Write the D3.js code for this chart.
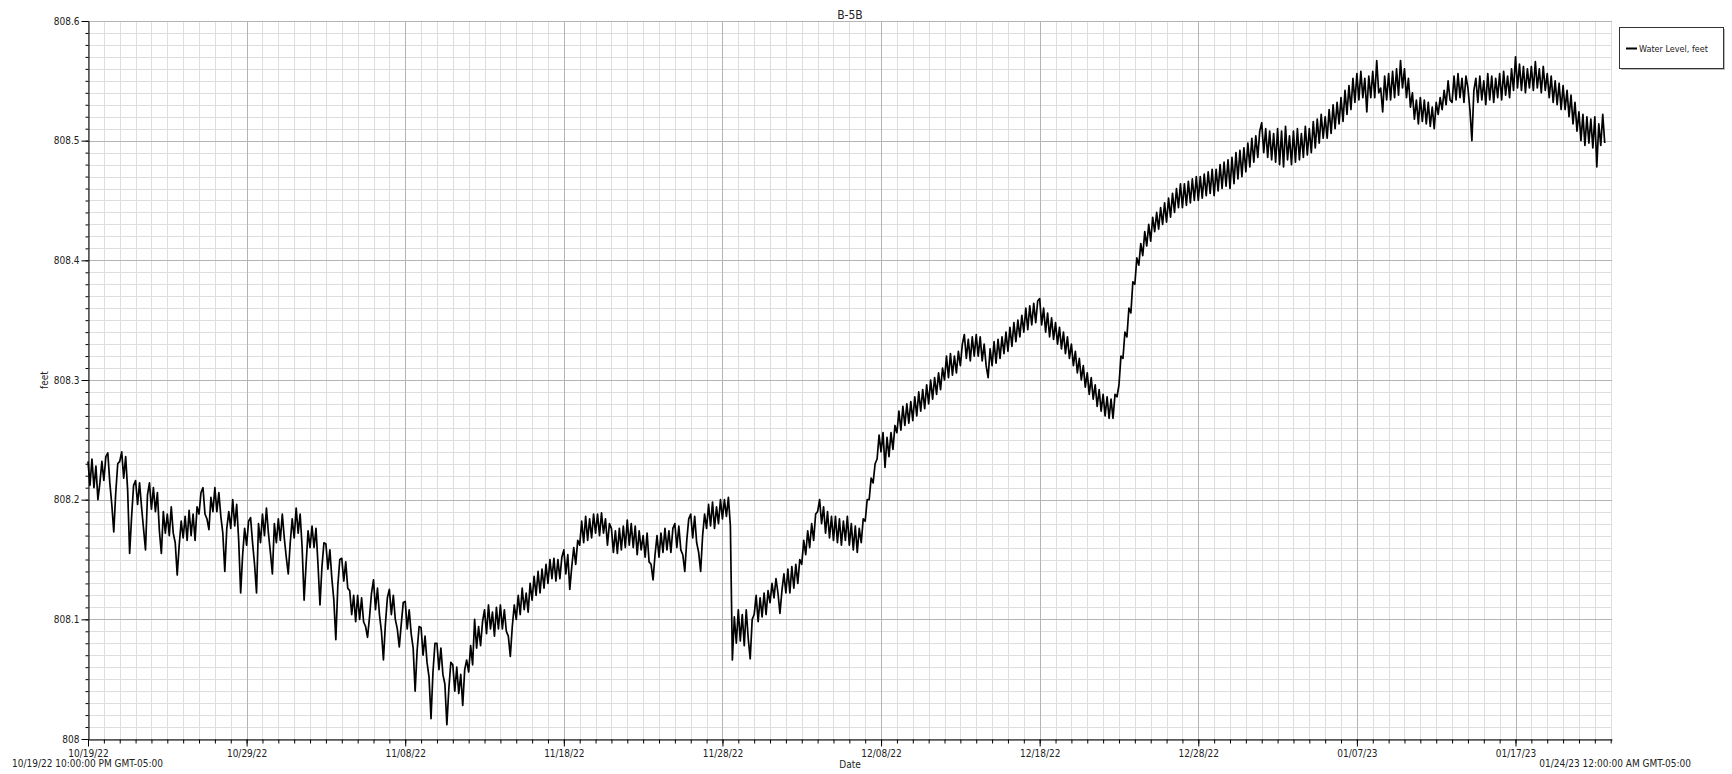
<!DOCTYPE html>
<html>
<head>
<meta charset="utf-8">
<title>B-5B</title>
<script src="https://cdn.jsdelivr.net/npm/d3@7"></script>
<style>
  html, body { margin: 0; padding: 0; background: #fff; }
  svg { display: block; }
  text { font-family: "DejaVu Sans Condensed", "DejaVu Sans", sans-serif; fill: #222; }
</style>
</head>
<body>
<svg id="chart" width="1732" height="774"></svg>
<script>
// Well B-5B water level record, sampled every 3 hours (GMT-05:00 wall clock)
const chartTitle = "B-5B";
const seriesName = "Water Level, feet";
const startTime = Date.UTC(2022, 9, 19, 22);   // 10/19/22 10:00 PM
const endTime = Date.UTC(2023, 0, 24, 0);      // 01/24/23 12:00 AM
const stepHours = 3;

// water level, feet (one row per day, eight readings each)
const level = [
  808.232, 808.212, 808.234, 808.210, 808.228, 808.200, 808.214, 808.232,
  808.216, 808.236, 808.239, 808.214, 808.196, 808.173, 808.206, 808.230,
  808.232, 808.240, 808.218, 808.236, 808.208, 808.155, 808.186, 808.212,
  808.216, 808.196, 808.214, 808.194, 808.176, 808.158, 808.204, 808.214,
  808.192, 808.210, 808.190, 808.206, 808.174, 808.155, 808.190, 808.172,
  808.188, 808.170, 808.194, 808.172, 808.164, 808.137, 808.162, 808.182,
  808.168, 808.186, 808.166, 808.191, 808.170, 808.188, 808.166, 808.194,
  808.188, 808.206, 808.210, 808.188, 808.184, 808.175, 808.202, 808.190,
  808.210, 808.190, 808.206, 808.186, 808.172, 808.140, 808.176, 808.190,
  808.176, 808.200, 808.178, 808.196, 808.166, 808.122, 808.154, 808.176,
  808.162, 808.182, 808.185, 808.164, 808.146, 808.122, 808.180, 808.164,
  808.188, 808.170, 808.193, 808.172, 808.156, 808.138, 808.180, 808.164,
  808.184, 808.166, 808.188, 808.168, 808.152, 808.138, 808.164, 808.184,
  808.168, 808.193, 808.172, 808.188, 808.160, 808.116, 808.146, 808.174,
  808.160, 808.178, 808.160, 808.176, 808.146, 808.112, 808.144, 808.164,
  808.163, 808.142, 808.158, 808.134, 808.116, 808.083, 808.128, 808.150,
  808.151, 808.132, 808.148, 808.126, 808.124, 808.104, 808.120, 808.098,
  808.120, 808.100, 808.118, 808.098, 808.094, 808.085, 808.102, 808.122,
  808.133, 808.108, 808.126, 808.104, 808.090, 808.066, 808.096, 808.118,
  808.125, 808.104, 808.120, 808.100, 808.092, 808.077, 808.096, 808.114,
  808.115, 808.092, 808.108, 808.088, 808.076, 808.040, 808.074, 808.094,
  808.093, 808.070, 808.086, 808.064, 808.052, 808.017, 808.056, 808.080,
  808.080, 808.058, 808.076, 808.054, 808.046, 808.012, 808.042, 808.064,
  808.062, 808.040, 808.060, 808.038, 808.054, 808.028, 808.058, 808.066,
  808.056, 808.078, 808.062, 808.100, 808.076, 808.094, 808.078, 808.098,
  808.108, 808.088, 808.112, 808.092, 808.106, 808.086, 808.110, 808.092,
  808.112, 808.092, 808.108, 808.090, 808.086, 808.069, 808.094, 808.112,
  808.100, 808.120, 808.104, 808.126, 808.108, 808.122, 808.106, 808.130,
  808.116, 808.136, 808.120, 808.140, 808.122, 808.142, 808.126, 808.146,
  808.130, 808.150, 808.134, 808.151, 808.132, 808.150, 808.134, 808.152,
  808.158, 808.138, 808.154, 808.125, 808.144, 808.160, 808.146, 808.166,
  808.162, 808.182, 808.164, 808.186, 808.166, 808.184, 808.168, 808.188,
  808.172, 808.188, 808.170, 808.189, 808.172, 808.184, 808.162, 808.180,
  808.176, 808.156, 808.174, 808.155, 808.176, 808.158, 808.178, 808.160,
  808.183, 808.162, 808.180, 808.160, 808.178, 808.154, 808.174, 808.158,
  808.170, 808.152, 808.172, 808.148, 808.146, 808.133, 808.154, 808.170,
  808.152, 808.172, 808.156, 808.176, 808.158, 808.174, 808.156, 808.176,
  808.180, 808.160, 808.178, 808.158, 808.154, 808.140, 808.166, 808.184,
  808.188, 808.168, 808.186, 808.164, 808.156, 808.140, 808.170, 808.188,
  808.176, 808.196, 808.178, 808.198, 808.176, 808.194, 808.180, 808.200,
  808.184, 808.200, 808.186, 808.202, 808.178, 808.066, 808.102, 808.080,
  808.108, 808.082, 808.104, 808.078, 808.108, 808.084, 808.067, 808.100,
  808.104, 808.120, 808.098, 808.118, 808.102, 808.122, 808.104, 808.124,
  808.114, 808.130, 808.118, 808.134, 808.122, 808.105, 808.124, 808.138,
  808.122, 808.142, 808.122, 808.144, 808.126, 808.146, 808.130, 808.150,
  808.146, 808.166, 808.154, 808.174, 808.160, 808.180, 808.166, 808.188,
  808.190, 808.200, 808.180, 808.194, 808.172, 808.190, 808.168, 808.186,
  808.166, 808.186, 808.164, 808.184, 808.162, 808.182, 808.166, 808.186,
  808.162, 808.180, 808.158, 808.178, 808.156, 808.176, 808.164, 808.184,
  808.182, 808.200, 808.200, 808.218, 808.214, 808.230, 808.234, 808.254,
  808.240, 808.256, 808.227, 808.252, 808.236, 808.256, 808.242, 808.262,
  808.256, 808.274, 808.258, 808.278, 808.262, 808.280, 808.264, 808.282,
  808.266, 808.286, 808.270, 808.290, 808.274, 808.292, 808.276, 808.296,
  808.280, 808.300, 808.284, 808.302, 808.288, 808.306, 808.292, 808.310,
  808.300, 808.320, 808.302, 808.322, 808.304, 808.320, 808.306, 808.324,
  808.312, 808.330, 808.338, 808.318, 808.334, 808.316, 808.336, 808.320,
  808.338, 808.320, 808.336, 808.316, 808.330, 808.312, 808.302, 808.326,
  808.312, 808.332, 808.314, 808.334, 808.318, 808.336, 808.322, 808.340,
  808.324, 808.344, 808.328, 808.348, 808.332, 808.350, 808.336, 808.354,
  808.340, 808.360, 808.342, 808.362, 808.346, 808.364, 808.348, 808.366,
  808.368, 808.346, 808.360, 808.340, 808.356, 808.336, 808.352, 808.334,
  808.348, 808.330, 808.344, 808.326, 808.340, 808.322, 808.336, 808.318,
  808.330, 808.312, 808.324, 808.306, 808.318, 808.300, 808.312, 808.294,
  808.306, 808.288, 808.302, 808.284, 808.296, 808.278, 808.292, 808.274,
  808.288, 808.270, 808.286, 808.268, 808.284, 808.268, 808.288, 808.286,
  808.296, 808.320, 808.318, 808.340, 808.336, 808.360, 808.356, 808.382,
  808.380, 808.402, 808.396, 808.414, 808.404, 808.424, 808.412, 808.430,
  808.416, 808.436, 808.424, 808.440, 808.426, 808.444, 808.430, 808.448,
  808.432, 808.452, 808.436, 808.456, 808.440, 808.460, 808.444, 808.464,
  808.444, 808.464, 808.446, 808.466, 808.448, 808.468, 808.450, 808.470,
  808.450, 808.470, 808.452, 808.472, 808.454, 808.474, 808.456, 808.476,
  808.454, 808.476, 808.458, 808.480, 808.460, 808.482, 808.462, 808.484,
  808.460, 808.486, 808.464, 808.490, 808.468, 808.492, 808.470, 808.494,
  808.474, 808.498, 808.478, 808.502, 808.482, 808.504, 808.486, 808.508,
  808.515, 808.490, 808.510, 808.486, 808.508, 808.484, 808.506, 808.482,
  808.510, 808.480, 808.508, 808.478, 808.512, 808.484, 808.504, 808.480,
  808.508, 808.482, 808.510, 808.484, 808.506, 808.486, 808.512, 808.488,
  808.510, 808.490, 808.516, 808.494, 808.518, 808.498, 808.522, 808.502,
  808.520, 808.502, 808.526, 808.506, 808.530, 808.510, 808.532, 808.514,
  808.536, 808.516, 808.542, 808.522, 808.546, 808.526, 808.552, 808.532,
  808.556, 808.534, 808.558, 808.536, 808.552, 808.524, 808.554, 808.536,
  808.558, 808.536, 808.567, 808.540, 808.544, 808.524, 808.554, 808.534,
  808.556, 808.534, 808.558, 808.536, 808.560, 808.538, 808.567, 808.544,
  808.560, 808.536, 808.552, 808.528, 808.540, 808.518, 808.534, 808.514,
  808.536, 808.516, 808.534, 808.514, 808.532, 808.512, 808.528, 808.510,
  808.532, 808.522, 808.536, 808.526, 808.542, 808.530, 808.550, 808.534,
  808.532, 808.554, 808.534, 808.556, 808.536, 808.552, 808.532, 808.554,
  808.544, 808.526, 808.500, 808.542, 808.552, 808.532, 808.554, 808.534,
  808.550, 808.530, 808.556, 808.534, 808.554, 808.532, 808.552, 808.536,
  808.556, 808.534, 808.558, 808.538, 808.554, 808.536, 808.560, 808.542,
  808.570, 808.544, 808.564, 808.542, 808.562, 808.540, 808.560, 808.544,
  808.562, 808.542, 808.566, 808.544, 808.560, 808.540, 808.562, 808.542,
  808.556, 808.536, 808.554, 808.532, 808.550, 808.530, 808.548, 808.526,
  808.546, 808.526, 808.542, 808.520, 808.538, 808.514, 808.532, 808.508,
  808.524, 808.500, 808.522, 808.496, 808.520, 808.498, 808.518, 808.494,
  808.520, 808.478, 808.514, 808.496, 808.522, 808.498
];

const yDomain = [808.0, 808.6];
const yMinorStep = 0.01;
const xMajorDays = 10;

const svg = d3.select("#chart");
const margin = { left: 88, right: 120, top: 21, bottom: 35 };
const W = 1732, H = 774;
const plotL = margin.left, plotR = W - margin.right, plotT = margin.top, plotB = H - margin.bottom;

const start = new Date(startTime), end = new Date(endTime);
const x = d3.scaleUtc().domain([start, end]).range([plotL, plotR]);
const y = d3.scaleLinear().domain(yDomain).range([plotB, plotT]);

const series = level.map((v, i) => ({ t: d3.utcHour.offset(start, i * stepHours), v }));

// tick positions
const nDays = Math.floor((endTime - startTime) / 864e5);
const dayTicks = d3.range(0, nDays + 1).map(d => d3.utcDay.offset(start, d));
const majorDays = dayTicks.filter((d, i) => i % xMajorDays === 0);
const nMinorY = Math.round((yDomain[1] - yDomain[0]) / yMinorStep);
const yMinor = d3.range(0, nMinorY + 1).map(i => +(yDomain[0] + i * yMinorStep).toFixed(2));
const yMajor = yMinor.filter((v, i) => i % 10 === 0);

// grid
const grid = svg.append("g");
grid.selectAll(".vminor").data(dayTicks).join("line")
  .attr("x1", d => Math.round(x(d)) + 0.5).attr("x2", d => Math.round(x(d)) + 0.5)
  .attr("y1", plotT).attr("y2", plotB)
  .attr("stroke", "#dedede").attr("stroke-width", 1);
grid.selectAll(".hminor").data(yMinor).join("line")
  .attr("x1", plotL).attr("x2", plotR)
  .attr("y1", d => Math.round(y(d)) + 0.5).attr("y2", d => Math.round(y(d)) + 0.5)
  .attr("stroke", "#dedede").attr("stroke-width", 1);
grid.selectAll(".vmajor").data(majorDays).join("line")
  .attr("x1", d => Math.round(x(d)) + 0.5).attr("x2", d => Math.round(x(d)) + 0.5)
  .attr("y1", plotT).attr("y2", plotB)
  .attr("stroke", "#b4b4b4").attr("stroke-width", 1);
grid.selectAll(".hmajor").data(yMajor).join("line")
  .attr("x1", plotL).attr("x2", plotR)
  .attr("y1", d => Math.round(y(d)) + 0.5).attr("y2", d => Math.round(y(d)) + 0.5)
  .attr("stroke", "#b4b4b4").attr("stroke-width", 1);

// series line
const line = d3.line().x(d => x(d.t)).y(d => y(d.v));
svg.append("path").datum(series)
  .attr("d", line)
  .attr("fill", "none")
  .attr("stroke", "#000")
  .attr("stroke-width", 1.7)
  .attr("stroke-linejoin", "round");

// axes
function styleAxis(g) {
  g.select(".domain").attr("stroke", "#000");
  g.selectAll(".tick line").attr("stroke", "#000");
  g.selectAll(".tick text").style("font-size", "10px").attr("fill", "#222");
}
svg.append("g").attr("transform", `translate(${plotL + 0.5},0)`)
  .call(d3.axisLeft(y).tickValues(yMinor).tickSize(3).tickFormat(""))
  .call(g => g.select(".domain").remove())
  .call(g => g.selectAll(".tick line").attr("stroke", "#000"));
svg.append("g").attr("transform", `translate(${plotL + 0.5},0)`)
  .call(d3.axisLeft(y).tickValues(yMajor).tickSize(7).tickSizeOuter(0).tickPadding(2).tickFormat(d3.format(".1~f")))
  .call(styleAxis);

svg.append("g").attr("transform", `translate(0,${plotB + 0.5})`)
  .call(d3.axisBottom(x).tickValues(dayTicks).tickSize(4).tickFormat(""))
  .call(g => g.select(".domain").remove())
  .call(g => g.selectAll(".tick line").attr("stroke", "#000"));
svg.append("g").attr("transform", `translate(0,${plotB + 0.5})`)
  .call(d3.axisBottom(x).tickValues(majorDays).tickSize(7).tickSizeOuter(0).tickPadding(3).tickFormat(d3.utcFormat("%m/%d/%y")))
  .call(styleAxis);

// range end labels
const fmtFull = d3.utcFormat("%m/%d/%y %I:%M:%S %p");
svg.append("text").attr("x", 12).attr("y", 767)
  .style("font-size", "10px").text(fmtFull(start) + " GMT-05:00");
svg.append("text").attr("x", 1691).attr("y", 767).attr("text-anchor", "end")
  .style("font-size", "10px").text(fmtFull(end) + " GMT-05:00");

// titles
svg.append("text").attr("x", (plotL + plotR) / 2).attr("y", 19).attr("text-anchor", "middle")
  .style("font-size", "12px").text(chartTitle);
svg.append("text").attr("x", (plotL + plotR) / 2).attr("y", 768).attr("text-anchor", "middle")
  .style("font-size", "10px").text("Date");
svg.append("text").attr("transform", `translate(48,${(plotT + plotB) / 2}) rotate(-90)`)
  .attr("text-anchor", "middle").style("font-size", "10px").text("feet");

// legend
const lg = svg.append("g").attr("transform", "translate(1619,27)");
lg.append("rect").attr("x", 2).attr("y", 2).attr("width", 104).attr("height", 41).attr("fill", "#bbb");
lg.append("rect").attr("x", 0.5).attr("y", 0.5).attr("width", 104).attr("height", 41)
  .attr("fill", "#fff").attr("stroke", "#333");
lg.append("line").attr("x1", 7).attr("x2", 18).attr("y1", 21.5).attr("y2", 21.5)
  .attr("stroke", "#000").attr("stroke-width", 2);
lg.append("text").attr("x", 20).attr("y", 24.5).style("font-size", "9px").text(seriesName);
</script>
</body>
</html>
